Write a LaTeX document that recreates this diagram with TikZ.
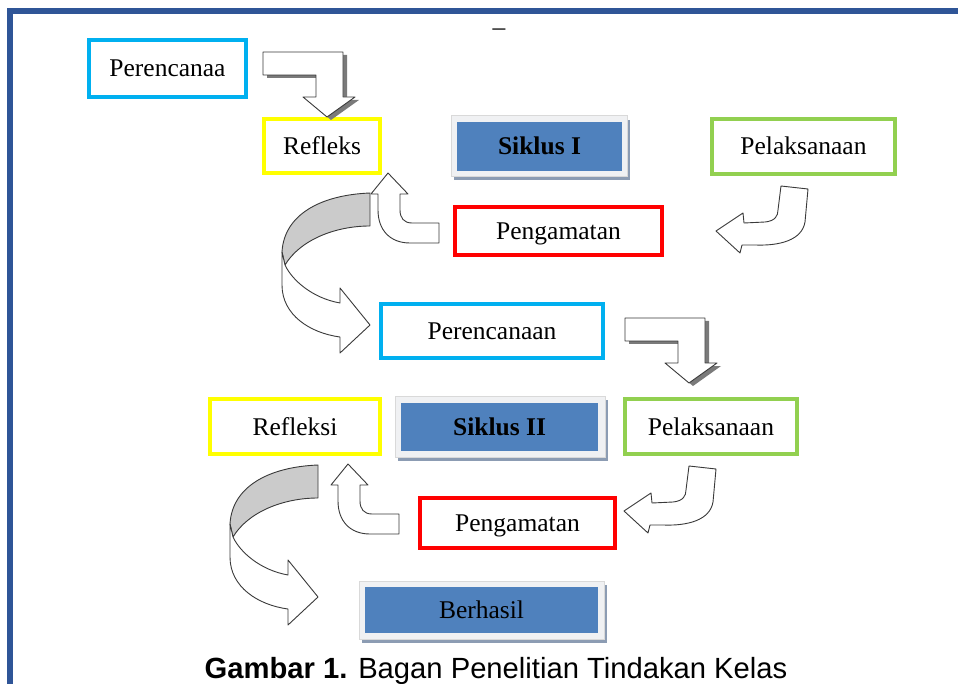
\documentclass[tikz,border=0pt]{standalone}
\usepackage{fontspec}
\setmainfont{Liberation Serif}
\newfontfamily\capfont{Liberation Sans}
\definecolor{bordc}{HTML}{2F5597}
\definecolor{cyanc}{HTML}{00B0F0}
\definecolor{yelc}{HTML}{FFFF00}
\definecolor{grnc}{HTML}{92D050}
\definecolor{redc}{HTML}{FF0000}
\definecolor{sblue}{HTML}{4F81BD}
\definecolor{framec}{HTML}{F0F1F3}
\definecolor{shadc}{HTML}{8C9CB3}
\definecolor{arrc}{HTML}{3A3A3A}
\definecolor{ribc}{HTML}{CBCBCB}
\definecolor{lshad}{HTML}{7A7A7A}
\tikzset{
  lbl/.style={font=\fontsize{25.5}{30}\selectfont, text height=17pt, text depth=0pt, inner sep=0pt},
  frbox/.style={lbl, draw=#1, line width=4.5pt, fill=white},
  blbox/.style={lbl, fill=sblue},
  arr/.style={draw=arrc, line width=0.9pt, line join=round, fill=white},
  pics/lbent/.style={code={
    \fill[lshad] (267,55) -- (347,55) -- (347,100) -- (359,100) -- (331,120) -- (307,100) -- (320,100) -- (320,78) -- (267,78) -- cycle;
    \draw[arr] (263,52) -- (343,52) -- (343,97) -- (355,97) -- (327,117) -- (303,97) -- (316,97) -- (316,75) -- (263,75) -- cycle;
  }},
  pics/upbent/.style={code={
    \draw[arr] (388,173) -- (408,194) -- (400,194) -- (400,210) .. controls (400,218) and (404,223) .. (412,223) -- (439,223) -- (439,243) -- (410,243) .. controls (390,243) and (378,230) .. (378,210) -- (378,194) -- (371,194) -- cycle;
  }},
  pics/uturn/.style={code={
    \draw[arr] (781,186) -- (808,189) -- (805,222) .. controls (802,240) and (780,246) .. (755,245) -- (742,245) -- (740,253) -- (716,231) -- (743,213) -- (744,223) -- (765,222) .. controls (775,221) and (778,216) .. (778,210) -- cycle;
  }},
  pics/ribbon/.style={code={
    \draw[arr, fill=ribc] (370,193) .. controls (320,195) and (284,215) .. (282,252) -- (285,265) .. controls (300,240) and (335,226) .. (370,226) -- cycle;
    \draw[arr] (282,252) -- (285,265) .. controls (292,280) and (312,298) .. (340,303) -- (340,288) -- (370,325) -- (340,353) -- (340,337) .. controls (310,333) and (282,315) .. (282,285) -- cycle;
  }},
}
\begin{document}
\begin{tikzpicture}[x=1pt,y=-1pt]
\useasboundingbox[fill=white] (0,0) rectangle (958,684);
% page border
\draw[bordc, line width=5.6pt] (10,684) -- (10,11) -- (958,11);
\node[lbl] (dash) at (499,27) {--};

% ---------- Siklus I ----------
\node[frbox=cyanc, minimum width=157pt, minimum height=57pt] (p1) at (167.5,68.5) {Perencanaa};
\node[frbox=yelc, minimum width=116pt, minimum height=54pt] (r1) at (322,146) {Refleks};
\fill[shadc] (454,120) rectangle (630,180);
\draw[fill=framec, draw=black!15, line width=0.5pt] (451,115) rectangle (627,176);
\node[blbox, minimum width=165pt, minimum height=49pt] (s1) at (539.5,146.5) {\textbf{Siklus I}};
\node[frbox=grnc, minimum width=183pt, minimum height=55pt] (l1) at (803.5,146.5) {Pelaksanaan};
\node[frbox=redc, minimum width=207pt, minimum height=48pt] (g1) at (558.5,231) {Pengamatan};

\pic at (0,0) {lbent};
\pic at (0,0) {uturn};
\pic at (0,0) {upbent};
\pic at (0,0) {ribbon};

% ---------- Siklus II ----------
\node[frbox=cyanc, minimum width=222pt, minimum height=54pt] (p2) at (492,331) {Perencanaan};
\node[frbox=yelc, minimum width=170pt, minimum height=55pt] (r2) at (295,426.5) {Refleksi};
\fill[shadc] (398,400) rectangle (608,461);
\draw[fill=framec, draw=black!15, line width=0.5pt] (395,396) rectangle (605,457);
\node[blbox, minimum width=197pt, minimum height=48pt] (s2) at (499.5,427) {\textbf{Siklus II}};
\node[frbox=grnc, minimum width=172pt, minimum height=55pt] (l2) at (711,426.5) {Pelaksanaan};
\node[frbox=redc, minimum width=195pt, minimum height=50pt] (g2) at (517.5,523) {Pengamatan};

\pic at (362,266) {lbent};
\pic at (-92,280) {uturn};
\pic at (-40,291) {upbent};
\pic at (-52,272) {ribbon};

% ---------- Berhasil ----------
\fill[shadc] (362,585) rectangle (607,643);
\draw[fill=framec, draw=black!15, line width=0.5pt] (359,581) rectangle (604,639);
\node[blbox, minimum width=233pt, minimum height=46pt] (b) at (481.5,610) {Berhasil};

% caption
\node[font=\capfont\fontsize{29.2}{34}\selectfont, anchor=base, inner sep=0pt] (cap) at (496,678) {\textbf{Gambar 1.} Bagan Penelitian Tindakan Kelas};
\end{tikzpicture}
\end{document}
